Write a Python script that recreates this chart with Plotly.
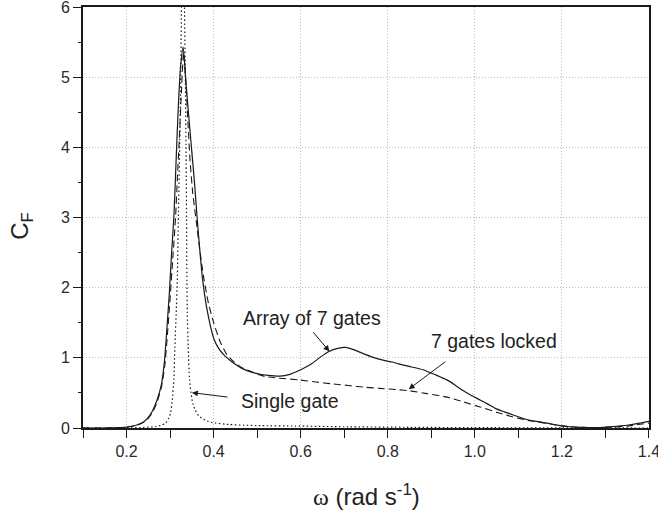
import plotly.graph_objects as go

# ---- data ----
omega_array = [0.10, 0.15, 0.18, 0.20, 0.22, 0.24, 0.25, 0.26, 0.27, 0.28, 0.287, 0.293, 0.298, 0.303,
               0.309, 0.314, 0.319, 0.324, 0.330, 0.3355, 0.342, 0.349, 0.356, 0.362, 0.368, 0.374,
               0.383, 0.392, 0.40, 0.413, 0.427, 0.445, 0.465, 0.485, 0.504, 0.525, 0.552, 0.575,
               0.596, 0.612, 0.626, 0.645, 0.665, 0.685, 0.703, 0.72, 0.741, 0.765, 0.787, 0.81,
               0.825, 0.855, 0.881, 0.91, 0.936, 0.955, 0.971, 0.99, 1.012, 1.03, 1.047, 1.068,
               1.088, 1.105, 1.124, 1.145, 1.166, 1.185, 1.20, 1.22, 1.24, 1.26, 1.277, 1.295,
               1.316, 1.335, 1.353, 1.375, 1.40]
cf_array = [0.0, 0.0, 0.004, 0.012, 0.035, 0.09, 0.15, 0.25, 0.40, 0.62, 0.95, 1.45, 1.90, 2.45,
            3.05, 3.85, 4.60, 5.15, 5.43, 5.0, 4.5, 4.0, 3.5, 3.0, 2.55, 2.15,
            1.75, 1.47, 1.28, 1.12, 1.02, 0.93, 0.85, 0.80, 0.77, 0.75, 0.74, 0.765,
            0.82, 0.87, 0.92, 1.01, 1.09, 1.135, 1.15, 1.12, 1.067, 1.01, 0.97, 0.94,
            0.914, 0.87, 0.83, 0.757, 0.686, 0.61, 0.54, 0.47, 0.40, 0.34, 0.28, 0.23,
            0.186, 0.15, 0.114, 0.09, 0.07, 0.045, 0.03, 0.018, 0.01, 0.006, 0.005, 0.01,
            0.02, 0.03, 0.043, 0.065, 0.095]

omega_locked = [0.10, 0.15, 0.18, 0.20, 0.22, 0.24, 0.25, 0.26, 0.27, 0.28, 0.288, 0.294, 0.30,
                0.306, 0.3125, 0.317, 0.321, 0.326, 0.331, 0.336, 0.341, 0.346, 0.352, 0.36,
                0.368, 0.377, 0.388, 0.40, 0.415, 0.43, 0.447, 0.465, 0.50, 0.519, 0.55, 0.596,
                0.635, 0.672, 0.71, 0.749, 0.782, 0.825, 0.851, 0.89, 0.936, 0.975, 1.012, 1.05,
                1.088, 1.125, 1.166, 1.20, 1.24, 1.277, 1.31, 1.353, 1.40]
cf_locked = [0.0, 0.0, 0.004, 0.011, 0.032, 0.085, 0.14, 0.23, 0.37, 0.58, 0.9, 1.35, 1.85,
             2.4, 3.0, 3.6, 4.1, 4.8, 5.35, 4.95, 4.35, 3.8, 3.35, 2.95,
             2.55, 2.15, 1.78, 1.5, 1.23, 1.05, 0.94, 0.86, 0.77, 0.733, 0.71, 0.686,
             0.655, 0.63, 0.605, 0.58, 0.565, 0.545, 0.53, 0.49, 0.44, 0.37, 0.30, 0.225,
             0.157, 0.105, 0.065, 0.03, 0.01, 0.004, 0.01, 0.03, 0.07]

omega_single = [0.10, 0.20, 0.24, 0.267, 0.28, 0.2896, 0.296, 0.301, 0.305, 0.3087, 0.311, 0.314,
                0.3165, 0.319, 0.322, 0.3245, 0.326, 0.3295, 0.333, 0.335, 0.3365, 0.3378, 0.3385,
                0.3395, 0.3415, 0.3446, 0.348, 0.352, 0.358, 0.366, 0.381, 0.397, 0.435, 0.47,
                0.511, 0.588, 0.70, 0.85, 1.0, 1.2, 1.4]
cf_single = [0.0, 0.0, 0.008, 0.02, 0.04, 0.067, 0.13, 0.21, 0.40, 0.69, 1.16, 1.64,
             2.1, 3.0, 4.0, 5.0, 6.0, 7.5, 6.0, 5.0, 4.0, 3.0, 2.1,
             1.64, 1.16, 0.69, 0.50, 0.35, 0.25, 0.17, 0.11, 0.076, 0.05, 0.04,
             0.033, 0.028, 0.018, 0.01, 0.005, 0.002, 0.0]

x_ticks = [0.2, 0.4, 0.6, 0.8, 1.0, 1.2, 1.4]
x_ticktext = ["0.2", "0.4", "0.6", "0.8", "1.0", "1.2", "1.4"]
x_minor_ticks = [0.1, 0.3, 0.5, 0.7, 0.9, 1.1, 1.3]
y_ticks = [0, 1, 2, 3, 4, 5, 6]

FONT = "Liberation Sans, Arial, sans-serif"
INK = "#1a1a1a"

fig = go.Figure()
fig.add_trace(go.Scatter(x=omega_array, y=cf_array, mode="lines", name="Array of 7 gates",
                         line=dict(color=INK, width=1.2, shape="spline", smoothing=0.6)))
fig.add_trace(go.Scatter(x=omega_locked, y=cf_locked, mode="lines", name="7 gates locked",
                         line=dict(color=INK, width=1.1, dash="7px,4px", shape="spline", smoothing=0.6)))
fig.add_trace(go.Scatter(x=omega_single, y=cf_single, mode="lines", name="Single gate",
                         line=dict(color=INK, width=1.2, dash="1.5px,2.5px", shape="spline", smoothing=0.4)))

axis_common = dict(showline=True, linecolor=INK, linewidth=1.6, mirror=True,
                   ticks="outside", ticklen=8, tickwidth=1.2, tickcolor=INK,
                   showgrid=True, gridcolor="#bdbdbd", gridwidth=1, griddash="1px,2px",
                   zeroline=False, ticklabeloverflow="allow", automargin=False,
                   tickfont=dict(family=FONT, size=16, color="#2a2a2a"))

fig.update_xaxes(range=[0.0999, 1.4001], tickvals=x_ticks, ticktext=x_ticktext,
                 minor=dict(tickvals=x_minor_ticks, ticklen=8,
                            tickwidth=1.2, tickcolor=INK, ticks="outside", showgrid=False),
                 **axis_common)
fig.update_yaxes(range=[0, 6.0001], tickvals=y_ticks,
                 minor=dict(dtick=0.5, ticklen=3, tickwidth=1, tickcolor=INK, ticks="outside", showgrid=False),
                 **axis_common)

annotations = [
    dict(x=0.5, y=-0.158, xref="paper", yref="paper", showarrow=False,
         text="<span style='font-family:Liberation Serif'>ω</span> (rad s<sup>-1</sup>)",
         font=dict(family=FONT, size=24, color="#222"), xanchor="center", yanchor="middle"),
    dict(x=-0.108, y=0.48, xref="paper", yref="paper", showarrow=False, textangle=-90,
         text="C<sub>F</sub>", font=dict(family=FONT, size=24, color="#222"),
         xanchor="center", yanchor="middle"),
    # labels
    dict(x=0.625, y=1.57, xref="x", yref="y", showarrow=False, text="Array of 7 gates",
         font=dict(family=FONT, size=19.5, color="#222"), xanchor="center", yanchor="middle"),
    dict(x=1.0445, y=1.24, xref="x", yref="y", showarrow=False, text="7 gates locked",
         font=dict(family=FONT, size=19.5, color="#222"), xanchor="center", yanchor="middle"),
    dict(x=0.575, y=0.38, xref="x", yref="y", showarrow=False, text="Single gate",
         font=dict(family=FONT, size=19.5, color="#222"), xanchor="center", yanchor="middle"),
    # arrows
    dict(x=0.666, y=1.09, ax=0.626, ay=1.386, xref="x", yref="y", axref="x", ayref="y",
         text="", showarrow=True, arrowhead=2, arrowsize=1.2, arrowwidth=1, arrowcolor=INK),
    dict(x=0.848, y=0.553, ax=0.936, ay=0.962, xref="x", yref="y", axref="x", ayref="y",
         text="", showarrow=True, arrowhead=2, arrowsize=1.2, arrowwidth=1, arrowcolor=INK),
    dict(x=0.350, y=0.504, ax=0.435, ay=0.438, xref="x", yref="y", axref="x", ayref="y",
         text="", showarrow=True, arrowhead=2, arrowsize=1.2, arrowwidth=1, arrowcolor=INK),
]

fig.update_layout(width=658, height=512, margin=dict(l=83, r=9, t=7, b=84),
                  paper_bgcolor="white", plot_bgcolor="white", showlegend=False,
                  annotations=annotations, font=dict(family=FONT, color="#222"))

fig.write_html("out.html")
